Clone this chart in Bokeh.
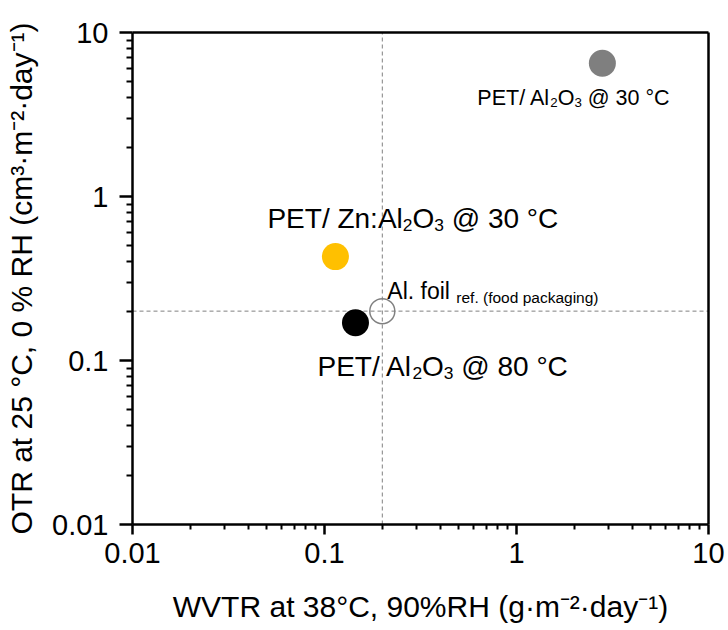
import re
from bokeh.plotting import figure
from bokeh.models import (Range1d, FixedTicker, ColumnDataSource,
                          CustomJSTickFormatter, LogAxis)
from bokeh.embed import file_html
from bokeh.resources import INLINE
from bokeh.core.properties import value

FONT = "Liberation Sans"

# ---------------- data ----------------
samples = ["PET/ Al{2}O{3} @ 30 °C", "PET/ Zn:Al{2}O{3} @ 30 °C", "PET/ Al{2}O{3} @ 80 °C"]
wvtr = [2.8, 0.114, 0.145]          # g m-2 day-1
otr = [6.5, 0.43, 0.17]             # cm3 m-2 day-1
colors = ["#7F7F7F", "#FFC000", "#000000"]

ref_label = "Al. foil"
ref_note = "ref. (food packaging)"
ref_wvtr = [0.2]
ref_otr = [0.2]

axis_lo, axis_hi = 0.01, 10
major_ticks = [0.01, 0.1, 1, 10]
major_labels = ["0.01", "0.1", "1", "10"]
minor_ticks = [m * t for t in major_ticks[:-1] for m in range(2, 10)]

x_title = "WVTR at 38°C, 90%RH (g·m⁻²·day⁻¹)"
y_title = "OTR at 25 °C, 0 % RH (cm³·m⁻²·day⁻¹)"

# ---------------- layout / styles ----------------
W, H = 728, 630
# margins (px) of the plotting box inside the canvas
ML, MR, MT, MB = 132, 20, 32, 106
DEC_X = (W - ML - MR) / 3.0          # px per decade
DEC_Y = (H - MT - MB) / 3.0
x_start = axis_lo * 10 ** (-ML / DEC_X)
x_end = axis_hi * 10 ** (MR / DEC_X)
y_start = axis_lo * 10 ** (-MB / DEC_Y)
y_end = axis_hi * 10 ** (MT / DEC_Y)

label_style = [dict(size=21.5, dx=-125, dy=35),
               dict(size=28, dx=-68, dy=-38),
               dict(size=28, dx=-38, dy=44)]
ref_style = dict(size=23, sub=15.5, dx=5, dy=-20, sub_dy=6)
SUB_RATIO = 0.62
SUB_SHIFT = 0.22

AW = {' ': 278, '(': 333, ')': 333, '.': 278, '/': 278, ':': 278, '@': 1015, '°': 400, '%': 889,
      'A': 667, 'C': 722, 'E': 667, 'P': 667, 'T': 611, 'Z': 611, 'O': 778, 'R': 722, 'H': 722,
      'l': 222, 'n': 556, 'r': 333, 'e': 556, 'f': 278, 'o': 556, 'i': 222, 'd': 556, 'p': 556,
      'a': 556, 'c': 500, 'k': 500, 'g': 556, 't': 278, 'm': 833, 'y': 500}
for d in "0123456789":
    AW[d] = 556


def tw(s, size):
    return sum(AW.get(ch, 556) for ch in s) * size / 1000.0


def parse(s):
    out = []
    for part in re.split(r"(\{[^}]*\})", s):
        if not part:
            continue
        if part.startswith("{"):
            out.append((part[1:-1], True))
        else:
            out.append((part, False))
    return out


seg = dict(x=[], y=[], text=[], xo=[], yo=[], fs=[])


def add_seg(xv, yv, txt, xo, yo, fs):
    lead = len(txt) - len(txt.lstrip(" "))
    xo += tw(" " * lead, fs)
    core = txt.strip(" ")
    if core:
        seg["x"].append(xv)
        seg["y"].append(yv)
        seg["text"].append(core)
        seg["xo"].append(xo)
        seg["yo"].append(yo)
        seg["fs"].append(f"{fs:.1f}px")


for name, xv, yv, st in zip(samples, wvtr, otr, label_style):
    cur = st["dx"]
    for txt, sub in parse(name):
        fs = st["size"] * SUB_RATIO if sub else st["size"]
        add_seg(xv, yv, txt, cur, st["dy"] + (SUB_SHIFT * st["size"] if sub else 0), fs)
        cur += tw(txt, fs)

add_seg(ref_wvtr[0], ref_otr[0], ref_label, ref_style["dx"], ref_style["dy"], ref_style["size"])
add_seg(ref_wvtr[0], ref_otr[0], ref_note,
        ref_style["dx"] + tw(ref_label + " ", ref_style["size"]),
        ref_style["dy"] + ref_style["sub_dy"], ref_style["sub"])

# ---------------- figure (frame = whole canvas, axes fixed inside it) ----------------
p = figure(width=W, height=H, x_axis_type="log", y_axis_type="log",
           x_range=Range1d(x_start, x_end), y_range=Range1d(y_start, y_end),
           output_backend="svg", toolbar_location=None, title_location=None,
           min_border=0, min_border_left=0, min_border_right=0,
           min_border_top=0, min_border_bottom=0,
           background_fill_color="white", border_fill_color="white")
p.grid.visible = False
p.outline_line_color = None

fmt = CustomJSTickFormatter(args=dict(vals=major_ticks, labs=major_labels), code="""
const i = vals.findIndex(v => Math.abs(Math.log10(v) - Math.log10(tick)) < 1e-6);
return i >= 0 ? labs[i] : '';
""")

xa = p.xaxis[0]
ya = p.yaxis[0]
axis_cfg = [(xa, x_title, 10, 5, 8, 24),
            (ya, y_title, 13, 6, 11, 11)]
for ax, title, tout, mtout, lstand, tstand in axis_cfg:
    ax.fixed_location = axis_lo
    ax.bounds = (axis_lo, axis_hi)
    ax.ticker = FixedTicker(ticks=major_ticks, minor_ticks=minor_ticks)
    ax.formatter = fmt
    ax.axis_label = title
    ax.axis_label_text_font = FONT
    ax.axis_label_text_font_size = "30px"
    ax.axis_label_text_font_style = "normal"
    ax.axis_label_text_color = "black"
    ax.major_label_text_font = FONT
    ax.major_label_text_font_size = "29px"
    ax.major_label_text_color = "black"
    ax.axis_line_width = 2.5
    ax.axis_line_color = "black"
    ax.major_tick_line_color = "black"
    ax.minor_tick_line_color = "black"
    ax.major_tick_line_width = 2.5
    ax.minor_tick_line_width = 2
    ax.major_tick_in = 0
    ax.minor_tick_in = 0
    ax.major_tick_out = tout
    ax.minor_tick_out = mtout
    ax.major_label_standoff = lstand
    ax.axis_label_standoff = tstand

# top and right edges of the box: bare axes, no ticks or labels
for loc in ("above", "right"):
    fr = LogAxis(ticker=FixedTicker(ticks=[], minor_ticks=[]), axis_line_width=2.5,
                 axis_line_color="black", major_label_text_font_size="0px",
                 fixed_location=axis_hi, bounds=(axis_lo, axis_hi))
    p.add_layout(fr, loc)

# reference dashed lines (bounded to the plotting box)
p.segment(x0=[ref_wvtr[0], axis_lo], y0=[axis_lo, ref_otr[0]],
          x1=[ref_wvtr[0], axis_hi], y1=[axis_hi, ref_otr[0]],
          line_color="#808080", line_width=1, line_dash="4 3")

p.scatter(x=wvtr, y=otr, size=27, fill_color=colors, line_color=None)
p.scatter(x=ref_wvtr, y=ref_otr, size=25, fill_color=None, line_color="#808080", line_width=1.5)

p.text(x="x", y="y", text="text", x_offset="xo", y_offset="yo", text_font_size="fs",
       source=ColumnDataSource(seg), text_font=value(FONT), text_align="left",
       text_baseline="alphabetic", text_color="black")

open("out.html", "w").write(file_html(p, INLINE))
